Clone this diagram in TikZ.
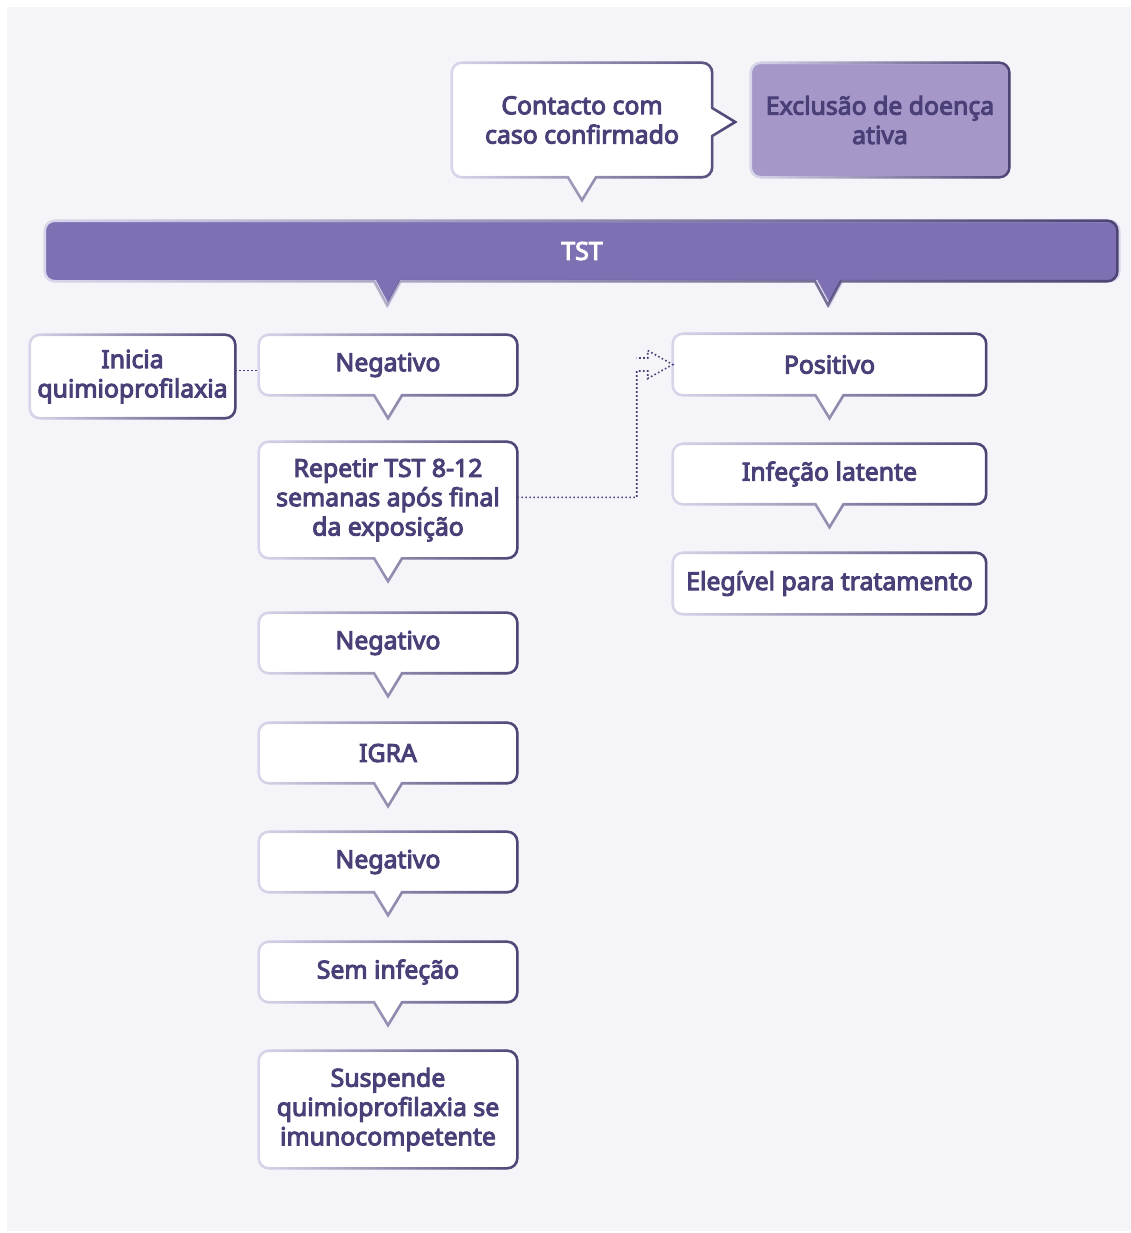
\documentclass[tikz,border=0pt]{standalone}
\usepackage{fontspec}
\setmainfont{Noto Sans}[BoldFont={Noto Sans}, BoldFeatures={FakeBold=4}]
\usetikzlibrary{calc,fadings}
\definecolor{bgc}{HTML}{F4F4F9}
\definecolor{txt}{HTML}{4B3F78}
\definecolor{lightb}{HTML}{DAD7EC}
\definecolor{darkb}{HTML}{4D4474}
\definecolor{barc}{HTML}{7E70B3}
\definecolor{excl}{HTML}{A598C9}
\pgfdeclarelayer{bg}
\pgfdeclarelayer{shapes}
\pgfsetlayers{bg,shapes,main}
\tikzfading[name=lr, left color=transparent!100, right color=transparent!0]
\newcommand\cpath[1]{($(#1.south)+(0,23)$) -- ($(#1.south)+(-14,0)$) -- ($(#1.south)+(-40,0)$) [rounded corners=7.5pt] -- (#1.south west) -- (#1.north west) -- (#1.north east) -- (#1.south east) -- ($(#1.south)+(40,0)$) [sharp corners] -- ($(#1.south)+(14,0)$) -- cycle}
\newcommand\bpath[1]{[rounded corners=7.5pt] (#1.south west) rectangle (#1.north east)}
\newcommand\callout[2][white]{\fill[#1] \cpath{#2}; \draw[bdl] \cpath{#2}; \draw[bdd] \cpath{#2};}
\newcommand\plainbox[2][white]{\fill[#1] \bpath{#2}; \draw[bdl] \bpath{#2}; \draw[bdd] \bpath{#2};}
\begin{document}
\begin{tikzpicture}[x=0.75pt,y=-0.75pt,
  lbl/.style={font=\fontsize{18.6}{22}\selectfont\bfseries, text=txt, align=center, inner sep=0pt},
  colL/.style={minimum width=193.5pt},
  colR/.style={minimum width=234.75pt},
  bdl/.style={draw=lightb, line width=1.9pt},
  bdd/.style={draw=darkb, line width=1.9pt, path fading=lr},
  dotline/.style={draw=txt, line width=1.2pt, dash pattern=on 1.2pt off 1.8pt},
]
\useasboundingbox (0,0) rectangle (1131,1233);
% nodes
\node[lbl, minimum width=195pt, minimum height=85.5pt] (contact) at (582,120) {Contacto com\\caso confirmado};
\node[lbl, minimum width=193.5pt, minimum height=85.5pt] (excl) at (880,120) {Exclusão de doença\\ativa};
\node[lbl, text=white, minimum width=805.5pt, minimum height=45pt] (tst) at (582,251) {TST};
\node[lbl, minimum width=153.75pt, minimum height=62.25pt] (ini) at (132.5,376.5) {Inicia\\quimioprofilaxia};
\node[lbl, colL, minimum height=45pt] (neg1) at (388,365) {Negativo};
\node[lbl, colL, minimum height=87pt] (rep) at (388,500) {Repetir TST 8-12\\semanas após final\\da exposição};
\node[lbl, colL, minimum height=45pt] (neg2) at (388,643) {Negativo};
\node[lbl, colL, minimum height=45pt] (igra) at (388,753) {IGRA};
\node[lbl, colL, minimum height=45pt] (neg3) at (388,862) {Negativo};
\node[lbl, colL, minimum height=45pt] (sem) at (388,972) {Sem infeção};
\node[lbl, colL, minimum height=87.75pt] (susp) at (388,1109.5) {Suspende\\quimioprofilaxia se\\imunocompetente};
\node[lbl, colR, minimum height=45.75pt] (pos) at (829.5,364.5) {Positivo};
\node[lbl, colR, minimum height=45pt] (lat) at (829.5,474) {Infeção latente};
\node[lbl, colR, minimum height=45.75pt] (eleg) at (829.5,583.5) {Elegível para tratamento};
% background
\begin{pgfonlayer}{bg}
\fill[white] (0,0) rectangle (1131,1233);
\fill[bgc] (7,7) rectangle (1131,1231);
\end{pgfonlayer}
% shapes
\begin{pgfonlayer}{shapes}
\def\contactpath{($(contact.south)+(0,23)$) -- ($(contact.south)+(-14,0)$) -- ($(contact.south)+(-40,0)$) [rounded corners=7.5pt] -- (contact.south west) -- (contact.north west) -- (contact.north east) -- ($(contact.north east)+(0,20)$) [sharp corners] -- ($(contact.east)+(0,-12)$) -- ($(contact.east)+(23,2)$) -- ($(contact.east)+(0,16)$) -- ($(contact.south east)+(0,-20)$) [rounded corners=7.5pt] -- (contact.south east) -- ($(contact.south)+(40,0)$) [sharp corners] -- ($(contact.south)+(14,0)$) -- cycle}
\fill[white] \contactpath; \draw[bdl] \contactpath; \draw[bdd] \contactpath;
\plainbox[excl]{excl}
\def\tstpath{($(tst.south -| neg1.center)+(0,24)$) -- ($(tst.south -| neg1.center)+(-13,0)$) -- ($(tst.south west)+(40,0)$) [rounded corners=7.5pt] -- (tst.south west) -- (tst.north west) -- (tst.north east) -- (tst.south east) -- ($(tst.south east)+(-40,0)$) [sharp corners] -- ($(tst.south -| pos.center)+(13,0)$) -- ($(tst.south -| pos.center)+(0,24)$) -- ($(tst.south -| pos.center)+(-13,0)$) -- ($(tst.south -| neg1.center)+(13,0)$) -- cycle}
\fill[barc] \tstpath; \draw[bdl] \tstpath; \draw[bdd] \tstpath;
\plainbox{ini}
\callout{neg1}
\callout{rep}
\callout{neg2}
\callout{igra}
\callout{neg3}
\callout{sem}
\plainbox{susp}
\callout{pos}
\callout{lat}
\plainbox{eleg}
\end{pgfonlayer}
% connectors
\draw[dotline] ([yshift=4.5pt]ini.east) -- ([yshift=4.5pt]ini.east -| neg1.west);
\draw[dotline] ([yshift=2pt]rep.east) -| ($(pos.west)+(-36,6.5)$) -- ($(pos.west)+(-25,6.5)$) -- ($(pos.west)+(-25,14)$) -- (pos.west) -- ($(pos.west)+(-25,-14)$) -- ($(pos.west)+(-25,-6.5)$) -- ($(pos.west)+(-36,-6.5)$);
\end{tikzpicture}
\end{document}
